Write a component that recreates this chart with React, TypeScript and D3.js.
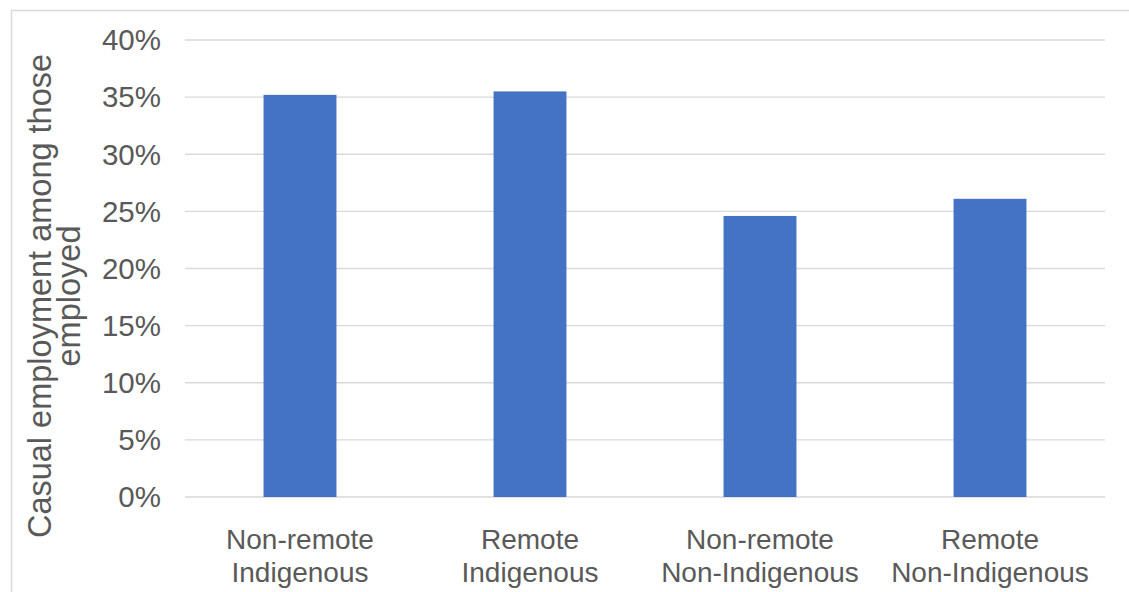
import React from "react";
import * as d3 from "d3";

const categories = [
  ["Non-remote", "Indigenous"],
  ["Remote", "Indigenous"],
  ["Non-remote", "Non-Indigenous"],
  ["Remote", "Non-Indigenous"],
];
const values = [0.352, 0.355, 0.246, 0.261];
const yTicks = [0, 0.05, 0.1, 0.15, 0.2, 0.25, 0.3, 0.35, 0.4];
const yTitle = ["Casual employment among those", "employed"];

export default function App() {
  const W = 1129, H = 592;
  const left = 185, right = 1105, top = 40, bottom = 497;
  const x = d3.scaleBand<number>().domain(d3.range(categories.length)).range([left, right]).padding(0);
  const y = d3.scaleLinear().domain([0, 0.4]).range([bottom, top]);
  const bw = x.bandwidth() * 0.317;
  const font = "Arial, 'Liberation Sans', sans-serif";
  const fmt = d3.format(".0%");
  return (
    <svg width={W} height={H} style={{ position: "absolute", left: 0, top: 0, background: "#fff" }}>
      <rect x={0} y={0} width={W} height={H} fill="#fff" />
      <path d={`M11.5,${H} V10.5 H${W}`} fill="none" stroke="#d9d9d9" strokeWidth={1.5} />
      {yTicks.map((t) => (
        <g key={t}>
          <line x1={left} x2={right} y1={y(t)} y2={y(t)} stroke="#d9d9d9" strokeWidth={1.3} />
          <text x={161} y={y(t)} dy="0.35em" textAnchor="end" fontSize={29.5} fill="#595959" fontFamily={font}>
            {fmt(t)}
          </text>
        </g>
      ))}
      {values.map((v, i) => (
        <rect
          key={i}
          x={(x(i) as number) + x.bandwidth() / 2 - bw / 2}
          y={y(v)}
          width={bw}
          height={y(0) - y(v)}
          fill="#4472c4"
        />
      ))}
      {categories.map((c, i) => (
        <text key={i} textAnchor="middle" fontSize={28} fill="#595959" fontFamily={font}>
          {c.map((line, j) => (
            <tspan key={j} x={(x(i) as number) + x.bandwidth() / 2} y={549 + j * 33}>
              {line}
            </tspan>
          ))}
        </text>
      ))}
      <text transform="translate(0,296) rotate(-90)" textAnchor="middle" fontSize={32.5} fill="#595959" fontFamily={font}>
        {yTitle.map((line, j) => (
          <tspan key={j} x={0} y={51 + j * 29}>
            {line}
          </tspan>
        ))}
      </text>
    </svg>
  );
}
